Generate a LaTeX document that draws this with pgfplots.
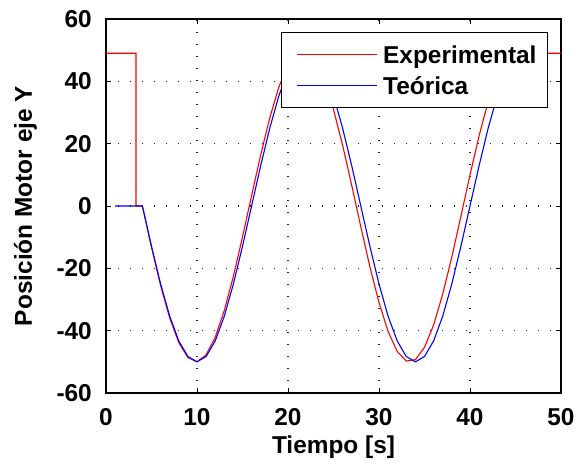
\documentclass[border=0pt]{standalone}
\usepackage{pgfplots}
\pgfplotsset{compat=1.18}
\usepackage{fontspec}
\setmainfont{Liberation Sans}

\begin{document}
\begin{tikzpicture}
\begin{axis}[
    scale only axis,
    width=455bp, height=374bp,
    xmin=0, xmax=50, ymin=-60, ymax=60,
    xtick={0,10,...,50}, ytick={-60,-40,...,60},
    font=\fontsize{24.5}{29}\selectfont\bfseries,
    /pgf/number format/assume math mode=true,
    tick align=inside, major tick length=5bp,
    axis line style={line width=1.2bp},
    tick style={black, line width=0.8bp},
    grid=major,
    grid style={black!85, line width=1.1bp, dash pattern=on 1bp off 11bp},
    xticklabel style={anchor=north, inner sep=0bp, yshift=-15bp},
    yticklabel style={anchor=east, inner sep=0bp, xshift=-14bp},
    xlabel={Tiempo [s]},
    xlabel style={at={(axis description cs:0.5,0)}, anchor=north, inner sep=0bp, yshift=-43bp},
    ylabel={Posición Motor eje Y},
    ylabel style={at={(axis description cs:-0.1516,0.5)}, anchor=south, inner sep=0bp},
    legend style={at={(0.9714,0.9652)}, anchor=north east, draw=black,
        line width=1bp, inner xsep=9bp, inner ysep=9.5bp, row sep=7bp,
        cells={inner sep=0bp, text height=19bp, text depth=4bp}},
    legend cell align=left,
    legend image code/.code={
        \draw[draw=none] (0bp,0bp) -- (91bp,0bp);
        \draw[#1] (7bp,0bp) -- (87bp,0bp);},
]
% Experimental
\addplot[color=red, line width=1.1bp] coordinates {
    (0,49) (3.3,49) (3.3,0) (4,0)
    (5,-13.21) (6,-25.49) (7,-35.95) (8,-43.84) (9,-48.64) (10,-49.97)
    (11,-47.76) (12,-42.15) (13,-33.55) (14,-22.55) (15,-9.96) (16,3.34)
    (17,16.40) (18,28.30) (19,38.20) (20,45.36) (21,49.31) (22,49.75)
    (23,46.66) (24,40.26) (25,30.99) (26,19.52) (27,6.66) (28,-6.66)
    (29,-19.52) (30,-30.99) (31,-40.25) (32,-46.66) (33,-49.75) (34,-49.30)
    (35,-45.36) (36,-38.20) (37,-28.30) (38,-16.40) (39,-3.34) (40,9.96)
    (41,22.55) (42,33.55) (43,42.16) (44,47.76) (45,49) (50,49)
};
% Teorica
\addplot[color=blue, line width=1.1bp] coordinates {
    (1,0) (2,0) (3,0) (4,0)
    (5,-12.94) (6,-25) (7,-35.36) (8,-43.30) (9,-48.30) (10,-50)
    (11,-48.30) (12,-43.30) (13,-35.36) (14,-25) (15,-12.94) (16,0)
    (17,12.94) (18,25) (19,35.36) (20,43.30) (21,48.30) (22,50)
    (23,48.30) (24,43.30) (25,35.36) (26,25) (27,12.94) (28,0)
    (29,-12.94) (30,-25) (31,-35.36) (32,-43.30) (33,-48.30) (34,-50)
    (35,-48.30) (36,-43.30) (37,-35.36) (38,-25) (39,-12.94) (40,0)
    (41,12.94) (42,25) (43,35.36) (44,43.30) (45,48.30) (46,50)
};
\legend{Experimental, Teórica}
\end{axis}
\path (current axis.south west) ++(-106bp,-73bp) rectangle ++(579bp,466bp);
\end{tikzpicture}
\end{document}
